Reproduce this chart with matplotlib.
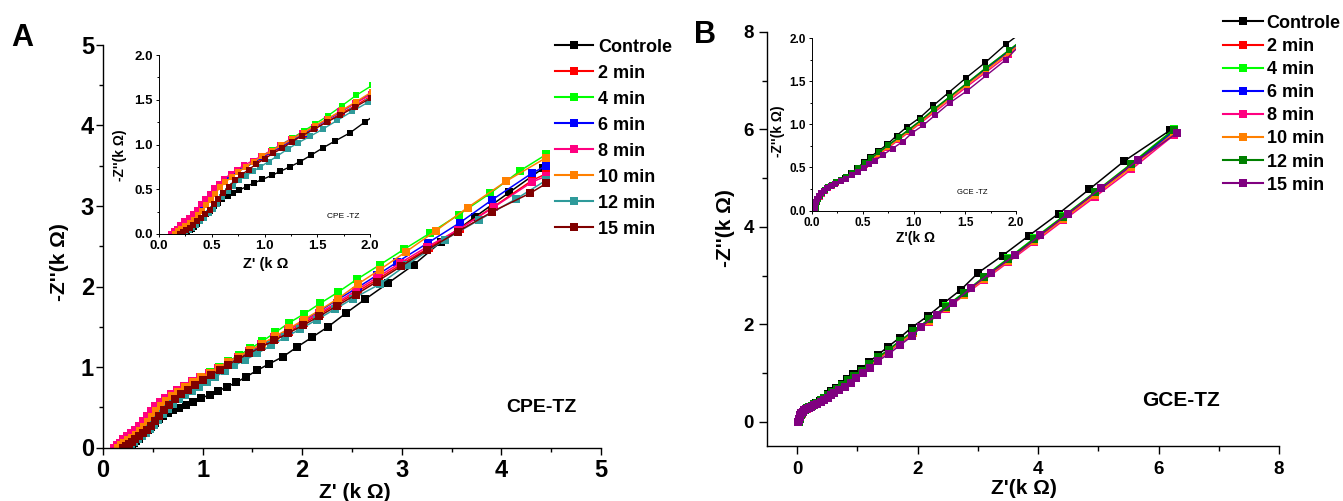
import matplotlib
matplotlib.use('Agg')
import matplotlib.pyplot as plt
from matplotlib.ticker import MultipleLocator, FormatStrFormatter

plt.rcParams['font.family'] = ['Liberation Sans', 'DejaVu Sans']
plt.rcParams['font.weight'] = 'bold'
plt.rcParams['axes.labelweight'] = 'bold'

labels = ['Controle', '2 min', '4 min', '6 min', '8 min', '10 min', '12 min', '15 min']
colors_a = ['#000000', '#FF0000', '#00FF00', '#0000FF', '#FF0080', '#FF8000', '#2E9A9A', '#800000']
colors_b = ['#000000', '#FF0000', '#00FF00', '#0000FF', '#FF0080', '#FF8000', '#008000', '#800080']

# ---------------- Panel A (CPE-TZ) ----------------
a_ctrl_x = [0.25, 0.27, 0.29, 0.31, 0.33, 0.36, 0.39, 0.42, 0.45, 0.48, 0.52, 0.56, 0.60, 0.65, 0.70, 0.76, 0.83, 0.90, 0.98, 1.07, 1.15, 1.24, 1.34, 1.44, 1.55, 1.67, 1.81, 1.95, 2.10, 2.26, 2.44, 2.63, 2.86, 3.12, 3.39, 3.73, 4.08, 4.42]
a_ctrl_y = [0.00, 0.02, 0.04, 0.06, 0.08, 0.11, 0.14, 0.18, 0.22, 0.26, 0.31, 0.35, 0.39, 0.43, 0.46, 0.49, 0.53, 0.57, 0.61, 0.655, 0.70, 0.75, 0.81, 0.88, 0.96, 1.04, 1.13, 1.25, 1.37, 1.50, 1.67, 1.84, 2.04, 2.27, 2.55, 2.86, 3.17, 3.47]

a_2_x = [0.12, 0.15, 0.18, 0.21, 0.25, 0.29, 0.33, 0.37, 0.41, 0.45, 0.49, 0.53, 0.58, 0.63, 0.69, 0.75, 0.82, 0.90, 0.98, 1.07, 1.16, 1.26, 1.37, 1.48, 1.60, 1.73, 1.87, 2.02, 2.18, 2.36, 2.56, 2.77, 3.00, 3.27, 3.58, 3.92, 4.31, 4.45]
a_2_y = [0.00, 0.03, 0.06, 0.09, 0.12, 0.16, 0.20, 0.25, 0.31, 0.37, 0.43, 0.49, 0.55, 0.60, 0.65, 0.70, 0.75, 0.80, 0.85, 0.91, 0.97, 1.04, 1.11, 1.18, 1.26, 1.35, 1.44, 1.55, 1.66, 1.79, 1.94, 2.10, 2.28, 2.48, 2.72, 2.99, 3.32, 3.40]

a_4_x = [0.13, 0.15, 0.18, 0.21, 0.25, 0.29, 0.33, 0.37, 0.41, 0.45, 0.49, 0.53, 0.58, 0.63, 0.69, 0.75, 0.82, 0.90, 0.98, 1.07, 1.16, 1.26, 1.37, 1.48, 1.60, 1.73, 1.87, 2.02, 2.18, 2.36, 2.55, 2.78, 3.02, 3.28, 3.57, 3.89, 4.19, 4.45]
a_4_y = [0.00, 0.03, 0.06, 0.09, 0.12, 0.15, 0.19, 0.24, 0.30, 0.36, 0.42, 0.48, 0.54, 0.60, 0.65, 0.70, 0.75, 0.81, 0.87, 0.94, 1.00, 1.07, 1.15, 1.23, 1.32, 1.43, 1.55, 1.66, 1.79, 1.93, 2.09, 2.27, 2.46, 2.66, 2.89, 3.16, 3.44, 3.64]

a_6_x = [0.12, 0.15, 0.18, 0.21, 0.25, 0.29, 0.33, 0.37, 0.41, 0.45, 0.49, 0.53, 0.58, 0.63, 0.69, 0.75, 0.82, 0.90, 0.98, 1.07, 1.16, 1.26, 1.37, 1.48, 1.60, 1.73, 1.87, 2.02, 2.18, 2.36, 2.56, 2.75, 2.95, 3.26, 3.58, 3.91, 4.31, 4.45]
a_6_y = [0.00, 0.03, 0.06, 0.09, 0.12, 0.16, 0.20, 0.25, 0.31, 0.37, 0.43, 0.49, 0.55, 0.60, 0.65, 0.70, 0.75, 0.80, 0.86, 0.92, 0.98, 1.05, 1.12, 1.20, 1.28, 1.37, 1.47, 1.58, 1.70, 1.84, 1.99, 2.14, 2.30, 2.54, 2.79, 3.08, 3.41, 3.50]

a_8_x = [0.11, 0.14, 0.17, 0.20, 0.24, 0.28, 0.32, 0.36, 0.40, 0.44, 0.48, 0.52, 0.57, 0.62, 0.68, 0.74, 0.81, 0.89, 0.97, 1.06, 1.15, 1.25, 1.36, 1.47, 1.59, 1.72, 1.86, 2.01, 2.17, 2.35, 2.54, 2.75, 2.98, 3.25, 3.56, 3.93, 4.31, 4.45]
a_8_y = [0.00, 0.03, 0.06, 0.10, 0.14, 0.18, 0.22, 0.27, 0.33, 0.39, 0.45, 0.51, 0.56, 0.62, 0.67, 0.72, 0.77, 0.82, 0.87, 0.93, 0.99, 1.06, 1.13, 1.20, 1.28, 1.37, 1.46, 1.56, 1.67, 1.80, 1.95, 2.11, 2.29, 2.49, 2.70, 2.99, 3.30, 3.37]

a_10_x = [0.15, 0.18, 0.21, 0.25, 0.29, 0.33, 0.37, 0.41, 0.45, 0.49, 0.53, 0.58, 0.63, 0.69, 0.75, 0.82, 0.90, 0.98, 1.07, 1.16, 1.26, 1.37, 1.48, 1.60, 1.73, 1.87, 2.02, 2.18, 2.36, 2.56, 2.78, 3.04, 3.34, 3.66, 4.05, 4.45]
a_10_y = [0.00, 0.03, 0.06, 0.09, 0.12, 0.16, 0.21, 0.26, 0.32, 0.38, 0.45, 0.52, 0.58, 0.64, 0.69, 0.75, 0.81, 0.87, 0.93, 0.99, 1.06, 1.13, 1.21, 1.29, 1.38, 1.48, 1.59, 1.71, 1.85, 2.03, 2.21, 2.43, 2.69, 2.98, 3.31, 3.60]

a_12_x = [0.22, 0.25, 0.28, 0.31, 0.35, 0.39, 0.43, 0.47, 0.51, 0.55, 0.60, 0.65, 0.70, 0.76, 0.82, 0.89, 0.96, 1.04, 1.12, 1.22, 1.32, 1.43, 1.55, 1.69, 1.83, 1.98, 2.15, 2.33, 2.51, 2.78, 3.05, 3.43, 3.78, 4.15, 4.45]
a_12_y = [0.00, 0.02, 0.04, 0.07, 0.10, 0.14, 0.18, 0.23, 0.28, 0.34, 0.41, 0.48, 0.54, 0.60, 0.65, 0.70, 0.75, 0.81, 0.87, 0.95, 1.02, 1.09, 1.17, 1.27, 1.37, 1.47, 1.59, 1.72, 1.85, 2.03, 2.27, 2.58, 2.83, 3.09, 3.32]

a_15_x = [0.20, 0.23, 0.26, 0.29, 0.32, 0.36, 0.40, 0.44, 0.48, 0.52, 0.56, 0.61, 0.66, 0.72, 0.78, 0.85, 0.92, 1.00, 1.08, 1.17, 1.26, 1.36, 1.47, 1.59, 1.72, 1.86, 2.01, 2.17, 2.35, 2.54, 2.75, 2.99, 3.25, 3.56, 3.91, 4.29, 4.45]
a_15_y = [0.00, 0.02, 0.04, 0.07, 0.10, 0.14, 0.18, 0.22, 0.27, 0.33, 0.39, 0.46, 0.53, 0.60, 0.66, 0.72, 0.78, 0.84, 0.90, 0.96, 1.03, 1.10, 1.17, 1.25, 1.33, 1.42, 1.52, 1.63, 1.76, 1.90, 2.06, 2.25, 2.45, 2.68, 2.93, 3.16, 3.28]

# ---------------- Panel B (GCE-TZ) ----------------
b_ctrl_x = [0.03, 0.035, 0.04, 0.05, 0.06, 0.08, 0.10, 0.13, 0.16, 0.20, 0.24, 0.28, 0.32, 0.38, 0.44, 0.51, 0.57, 0.65, 0.74, 0.83, 0.93, 1.06, 1.19, 1.34, 1.51, 1.70, 1.90, 2.17, 2.43, 2.72, 3.01, 3.41, 3.85, 4.34, 4.85, 5.43, 6.19]
b_ctrl_y = [0.00, 0.03, 0.06, 0.10, 0.13, 0.17, 0.20, 0.24, 0.27, 0.30, 0.33, 0.35, 0.38, 0.43, 0.49, 0.56, 0.62, 0.69, 0.77, 0.87, 0.97, 1.08, 1.22, 1.37, 1.54, 1.72, 1.93, 2.17, 2.43, 2.71, 3.06, 3.41, 3.82, 4.27, 4.77, 5.35, 5.98]

b_mid_x = [0.03, 0.035, 0.04, 0.05, 0.06, 0.08, 0.10, 0.13, 0.16, 0.20, 0.24, 0.28, 0.33, 0.39, 0.45, 0.52, 0.58, 0.66, 0.75, 0.85, 0.95, 1.07, 1.20, 1.35, 1.52, 1.71, 1.93, 2.19, 2.47, 2.77, 3.10, 3.50, 3.94, 4.42, 4.95, 5.55, 6.25]
b_2_y = [0.00, 0.03, 0.06, 0.10, 0.13, 0.17, 0.20, 0.24, 0.27, 0.30, 0.33, 0.35, 0.38, 0.43, 0.48, 0.54, 0.60, 0.67, 0.75, 0.84, 0.93, 1.04, 1.17, 1.31, 1.47, 1.64, 1.84, 2.08, 2.34, 2.62, 2.94, 3.31, 3.72, 4.17, 4.66, 5.24, 5.93]
b_4_y = [0.00, 0.03, 0.06, 0.10, 0.13, 0.17, 0.20, 0.24, 0.27, 0.30, 0.33, 0.36, 0.39, 0.44, 0.49, 0.55, 0.61, 0.68, 0.76, 0.85, 0.94, 1.05, 1.18, 1.32, 1.48, 1.66, 1.86, 2.10, 2.37, 2.65, 2.97, 3.35, 3.77, 4.22, 4.72, 5.30, 6.00]
b_6_y = [0.00, 0.03, 0.06, 0.10, 0.13, 0.17, 0.20, 0.24, 0.27, 0.30, 0.33, 0.35, 0.38, 0.43, 0.48, 0.54, 0.60, 0.67, 0.75, 0.84, 0.93, 1.04, 1.17, 1.31, 1.47, 1.65, 1.85, 2.09, 2.35, 2.63, 2.95, 3.32, 3.73, 4.18, 4.68, 5.26, 5.96]
b_8_y = [0.00, 0.03, 0.06, 0.10, 0.13, 0.16, 0.19, 0.23, 0.26, 0.29, 0.32, 0.34, 0.37, 0.42, 0.47, 0.53, 0.58, 0.65, 0.73, 0.82, 0.91, 1.02, 1.14, 1.28, 1.44, 1.61, 1.81, 2.05, 2.31, 2.59, 2.90, 3.27, 3.68, 4.13, 4.62, 5.18, 5.88]
b_10_y = [0.00, 0.03, 0.06, 0.10, 0.13, 0.17, 0.20, 0.24, 0.27, 0.30, 0.33, 0.35, 0.38, 0.43, 0.48, 0.54, 0.59, 0.66, 0.74, 0.83, 0.92, 1.03, 1.16, 1.30, 1.46, 1.63, 1.83, 2.07, 2.33, 2.61, 2.92, 3.30, 3.71, 4.16, 4.66, 5.22, 5.92]
b_12_y = [0.00, 0.03, 0.06, 0.10, 0.13, 0.17, 0.20, 0.24, 0.27, 0.30, 0.33, 0.36, 0.39, 0.44, 0.49, 0.55, 0.61, 0.68, 0.76, 0.85, 0.94, 1.05, 1.18, 1.32, 1.48, 1.66, 1.86, 2.10, 2.36, 2.64, 2.96, 3.34, 3.76, 4.21, 4.71, 5.29, 5.99]

b_15_x = [0.02, 0.025, 0.03, 0.04, 0.05, 0.07, 0.09, 0.12, 0.15, 0.19, 0.23, 0.28, 0.33, 0.39, 0.45, 0.51, 0.56, 0.62, 0.70, 0.79, 0.89, 0.98, 1.09, 1.21, 1.35, 1.52, 1.71, 1.90, 2.06, 2.32, 2.59, 2.88, 3.22, 3.62, 4.04, 4.50, 5.04, 5.66, 6.31]
b_15_y = [0.00, 0.03, 0.06, 0.10, 0.13, 0.17, 0.20, 0.23, 0.26, 0.29, 0.31, 0.34, 0.37, 0.41, 0.45, 0.49, 0.54, 0.58, 0.65, 0.72, 0.80, 0.90, 0.99, 1.11, 1.25, 1.39, 1.57, 1.75, 1.95, 2.19, 2.43, 2.74, 3.06, 3.42, 3.83, 4.27, 4.79, 5.37, 5.93]

series_a = [(a_ctrl_x, a_ctrl_y), (a_2_x, a_2_y), (a_4_x, a_4_y), (a_6_x, a_6_y),
            (a_8_x, a_8_y), (a_10_x, a_10_y), (a_12_x, a_12_y), (a_15_x, a_15_y)]
series_b = [(b_ctrl_x, b_ctrl_y), (b_mid_x, b_2_y), (b_mid_x, b_4_y), (b_mid_x, b_6_y),
            (b_mid_x, b_8_y), (b_mid_x, b_10_y), (b_mid_x, b_12_y), (b_15_x, b_15_y)]

W, H = 1343, 501
fig = plt.figure(figsize=(W / 100, H / 100), dpi=100)


def rect(x0, y0, x1, y1):
    # pixel box (left, top, right, bottom) -> figure fraction
    return [x0 / W, 1 - y1 / H, (x1 - x0) / W, (y1 - y0) / H]


def pix_text(x, y, s, **kw):
    # place text at pixel position measured from the top-left corner
    fig.text(x / W, 1 - y / H, s, ha='center', va='center', **kw)


def style(ax, lw, major_len, minor_len, labelsize, xpad, ypad):
    for s in ['top', 'right']:
        ax.spines[s].set_visible(False)
    for s in ['left', 'bottom']:
        ax.spines[s].set_linewidth(lw)
    ax.tick_params(which='major', direction='out', length=major_len, width=lw, labelsize=labelsize)
    ax.tick_params(which='minor', direction='out', length=minor_len, width=lw)
    ax.tick_params(axis='x', which='major', pad=xpad)
    ax.tick_params(axis='y', which='major', pad=ypad)
    for t in ax.get_xticklabels() + ax.get_yticklabels():
        t.set_fontweight('bold')
    ax.set_facecolor('none')


def plot_series(ax, series, colors, ms, lw):
    lines = []
    for (x, y), c, lab in zip(series, colors, labels):
        ln, = ax.plot(x, y, '-s', color=c, ms=ms, lw=lw, mec=c, mew=0, label=lab)
        lines.append(ln)
    return lines

# ---- Panel A main
axA = fig.add_axes(rect(103, 45, 601, 447.5))
linesA = plot_series(axA, series_a, colors_a, 5.2, 1.1)
axA.set_xlim(0, 5)
axA.set_ylim(0, 5)
axA.xaxis.set_major_locator(MultipleLocator(1))
axA.xaxis.set_minor_locator(MultipleLocator(0.5))
axA.yaxis.set_major_locator(MultipleLocator(1))
axA.yaxis.set_minor_locator(MultipleLocator(0.5))
style(axA, 1.0, 5, 3, 17, 3, 1.5)
axA.set_xlabel("Z' (k Ω)", fontsize=15, fontweight='bold')
axA.xaxis.set_label_coords(0.506, -0.088)
axA.set_ylabel("-Z''(k Ω)", fontsize=15, fontweight='bold')
axA.yaxis.set_label_coords(-0.068, 0.461)
pix_text(541, 408, 'CPE-TZ', fontsize=14, fontweight='bold')

# ---- Panel A inset
axAi = fig.add_axes(rect(159, 55, 370, 234))
plot_series(axAi, series_a, colors_a, 3.8, 1.0)
axAi.set_xlim(0, 2)
axAi.set_ylim(0, 2)
axAi.xaxis.set_major_locator(MultipleLocator(0.5))
axAi.xaxis.set_minor_locator(MultipleLocator(0.25))
axAi.yaxis.set_major_locator(MultipleLocator(0.5))
axAi.yaxis.set_minor_locator(MultipleLocator(0.25))
axAi.xaxis.set_major_formatter(FormatStrFormatter('%.1f'))
axAi.yaxis.set_major_formatter(FormatStrFormatter('%.1f'))
style(axAi, 0.7, 2.5, 1.5, 9.5, 2, 2)
axAi.set_xlabel("Z' (k Ω", fontsize=10.5, fontweight='bold')
axAi.xaxis.set_label_coords(0.507, -0.128)
axAi.set_ylabel("-Z''(k Ω)", fontsize=10, fontweight='bold')
axAi.yaxis.set_label_coords(-0.15, 0.44)
pix_text(343, 217, 'CPE -TZ', fontsize=6, fontweight='normal')

# ---- Panel B main
axB = fig.add_axes(rect(767, 32, 1279, 446))
linesB = plot_series(axB, series_b, colors_b, 6, 1.1)
axB.set_xlim(-0.5, 8)
axB.set_ylim(-0.5, 8)
axB.xaxis.set_major_locator(MultipleLocator(2))
axB.xaxis.set_minor_locator(MultipleLocator(1))
axB.yaxis.set_major_locator(MultipleLocator(2))
axB.yaxis.set_minor_locator(MultipleLocator(1))
style(axB, 1.0, 6, 3.5, 13.5, 5, 3.5)
axB.set_xlabel("Z'(k Ω)", fontsize=15, fontweight='bold')
axB.xaxis.set_label_coords(0.502, -0.08)
axB.set_ylabel("-Z''(k Ω)", fontsize=15, fontweight='bold')
axB.yaxis.set_label_coords(-0.062, 0.527)
pix_text(1181, 400, 'GCE-TZ', fontsize=15, fontweight='bold')

# ---- Panel B inset
axBi = fig.add_axes(rect(812, 38.3, 1016, 210.5))
plot_series(axBi, series_b, colors_b, 4, 1.0)
axBi.set_xlim(0, 2)
axBi.set_ylim(0, 2)
axBi.xaxis.set_major_locator(MultipleLocator(0.5))
axBi.xaxis.set_minor_locator(MultipleLocator(0.25))
axBi.yaxis.set_major_locator(MultipleLocator(0.5))
axBi.yaxis.set_minor_locator(MultipleLocator(0.25))
axBi.xaxis.set_major_formatter(FormatStrFormatter('%.1f'))
axBi.yaxis.set_major_formatter(FormatStrFormatter('%.1f'))
style(axBi, 0.7, 2.5, 1.5, 8.5, 2, 2)
axBi.set_xlabel("Z'(k Ω", fontsize=10, fontweight='bold')
axBi.xaxis.set_label_coords(0.51, -0.119)
axBi.set_ylabel("-Z''(k Ω)", fontsize=10, fontweight='bold')
axBi.yaxis.set_label_coords(-0.13, 0.46)
pix_text(972, 192, 'GCE -TZ', fontsize=5.5, fontweight='normal')

# ---- Legends
legA = fig.legend(handles=linesA, labels=labels, loc='upper left',
                  bbox_to_anchor=(555 / W, 1 - 38.5 / H), frameon=False,
                  handlelength=2.1, handletextpad=0.28,
                  labelspacing=0.5, borderpad=0, borderaxespad=0, numpoints=1,
                  prop={'weight': 'bold', 'size': 13})
for h in legA.legend_handles:
    h.set_markersize(5.5)
    h.set_linewidth(1.5)

legB = fig.legend(handles=linesB, labels=labels, loc='upper left',
                  bbox_to_anchor=(1223 / W, 1 - 14.7 / H), frameon=False,
                  handlelength=2.2, handletextpad=0.22,
                  labelspacing=0.34, borderpad=0, borderaxespad=0, numpoints=1,
                  prop={'weight': 'bold', 'size': 13})
for h in legB.legend_handles:
    h.set_markersize(5.5)
    h.set_linewidth(1.5)

# ---- Panel letters
pix_text(22, 38, 'A', fontsize=22, fontweight='bold')
pix_text(705, 35, 'B', fontsize=22, fontweight='bold')

fig.savefig('out.png', dpi=100)
